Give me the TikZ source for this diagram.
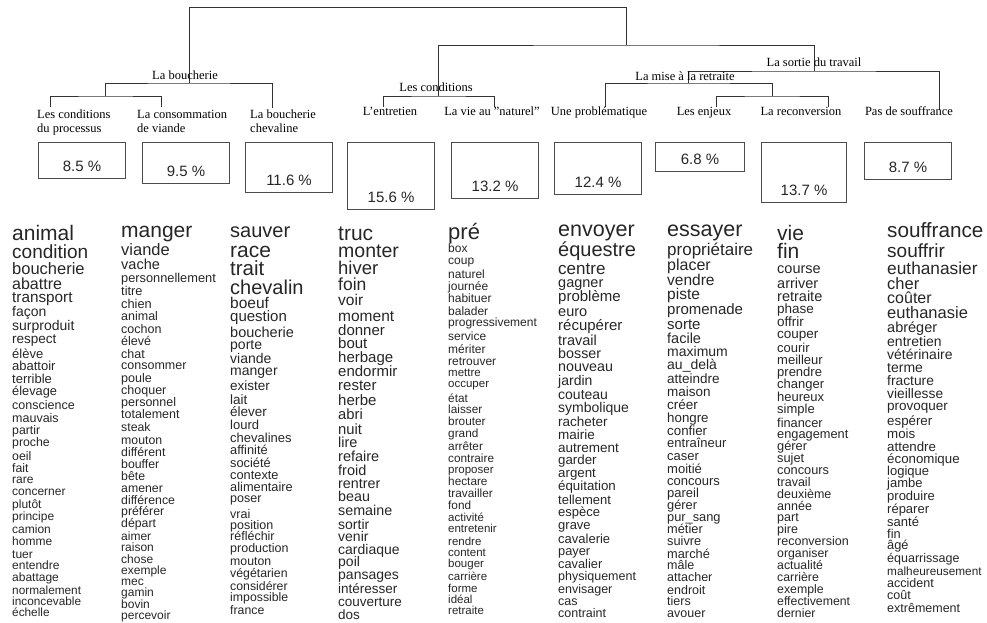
\documentclass[tikz,border=0pt]{standalone}
\usepackage{fontspec}
\setmainfont{Liberation Serif}
\newfontfamily\wordfont{Liberation Sans}
\newcommand{\wsize}[1]{\wordfont\fontsize{#1}{#1}\selectfont}

\begin{document}
\begin{tikzpicture}[x=1pt,y=-1pt,
                    tree/.style={draw=black!80,line width=0.9pt},
                    grp/.style={font=\fontsize{12.5}{14}\selectfont,inner sep=0pt,anchor=mid},
                    classbox/.style={draw=black!70,line width=1.1pt,minimum width=87pt,inner sep=0pt,anchor=north west},
                    pct/.style={font=\wsize{15},inner sep=0pt,text=black!85}]
  \tikzstyle{word}=[inner sep=0pt,anchor=mid west,text=black!85]

  \useasboundingbox (0,0) rectangle (987,623);
  \clip (0,0) rectangle (987,623);

  % leaves of the tree
  \coordinate (t1) at (50,107);
  \coordinate (t2) at (161,107);
  \coordinate (t3) at (272,108);
  \coordinate (t4) at (383,107);
  \coordinate (t5) at (494,107);
  \coordinate (t6) at (605,107);
  \coordinate (t7) at (716,107);
  \coordinate (t8) at (828,107);
  \coordinate (t9) at (939,110);
  % joins
  \coordinate (k12) at (105.5,96);
  \coordinate (kB)  at (189,83);
  \coordinate (kC)  at (438.5,96);
  \coordinate (kE)  at (772,96);
  \coordinate (kM)  at (688.5,83);
  \coordinate (kS)  at (814,71);
  \coordinate (kR)  at (626,45);
  \coordinate (k0)  at (407.5,7.5);

  \draw[tree] (t1) |- (k12) -| (t2);
  \draw[tree] (k12) |- (kB) -| (t3);
  \draw[tree] (t4) |- (kC) -| (t5);
  \draw[tree] (t7) |- (kE) -| (t8);
  \draw[tree] (t6) |- (kM) -| (kE);
  \draw[tree] (kM) |- (kS) -| (t9);
  \draw[tree] (kC) |- (kR) -| (kS);
  \draw[tree] (kB) |- (k0) -| (kR);

  \node[grp] (gB) at (185,77) {La boucherie};
  \node[grp] (gC) at (436,89) {Les conditions};
  \node[grp] (gM) at (685,78) {La mise à la retraite};
  \node[grp] (gS) at (814,64) {La sortie du travail};

  \node[grp,anchor=north west,align=left] (l1) at (37,110) {Les conditions\\du processus};
  \node[grp,anchor=north west,align=left] (l2) at (137,110) {La consommation\\de viande};
  \node[grp,anchor=north west,align=left] (l3) at (250,110) {La boucherie\\chevaline};
  \node[grp] (l4) at (390,113) {L'entretien};
  \node[grp] (l5) at (492,113) {La vie au "naturel"};
  \node[grp] (l6) at (599,113) {Une problématique};
  \node[grp] (l7) at (704,113) {Les enjeux};
  \node[grp] (l8) at (801,113) {La reconversion};
  \node[grp] (l9) at (909,113) {Pas de souffrance};

  % class boxes
  \node[classbox,minimum height=36pt] (b1) at (38,142) {};
  \node[classbox,minimum height=41pt] (b2) at (142,142) {};
  \node[classbox,minimum height=50pt] (b3) at (245,142) {};
  \node[classbox,minimum height=67pt] (b4) at (347,142) {};
  \node[classbox,minimum height=56pt] (b5) at (451,142) {};
  \node[classbox,minimum height=52pt] (b6) at (554,142) {};
  \node[classbox,minimum height=29pt,minimum width=89pt] (b7) at (655,142) {};
  \node[classbox,minimum height=60pt,minimum width=85pt] (b8) at (761,142) {};
  \node[classbox,minimum height=37pt] (b9) at (864,142) {};

  \node[pct] (p1) at ([yshift=12.5pt]b1.south) {8.5 \%};
  \node[pct] (p2) at ([yshift=12.5pt]b2.south) {9.5 \%};
  \node[pct] (p3) at ([yshift=12.5pt]b3.south) {11.6 \%};
  \node[pct] (p4) at ([yshift=12.5pt]b4.south) {15.6 \%};
  \node[pct] (p5) at ([yshift=12.5pt]b5.south) {13.2 \%};
  \node[pct] (p6) at ([yshift=12.5pt]b6.south) {12.4 \%};
  \node[pct] (p7) at ([yshift=12.5pt]b7.south) {6.8 \%};
  \node[pct] (p8) at ([yshift=12.5pt]b8.south) {13.7 \%};
  \node[pct] (p9) at ([yshift=12.5pt]b9.south) {8.7 \%};

  % words of each class
  \foreach \y/\sz/\txt [count=\i] in {238/21/animal, 256/19/condition, 272/16.5/boucherie,
      287/16/abattre, 300/15.3/transport, 314/14/façon, 328/14/surproduit, 341/13.5/respect,
      356/13/élève, 368/13/abattoir, 381/13/terrible, 393/12.8/élevage, 407/12.5/conscience,
      420/12.5/mauvais, 432/12.3/partir, 444/12.3/proche, 458/12.3/oeil, 470/12.3/fait,
      481/12/rare, 493/12/concerner, 506/12/plutôt, 518/12/principe, 531/12/camion,
      543/12/homme, 556/12/tuer, 567/12/entendre, 579/12/abattage, 592/11.8/normalement,
      603/11.8/inconcevable, 614/11.8/échelle}
    \node[word,font=\wsize{\sz}] (wa\i) at (12,\y) {\txt};

  \foreach \y/\sz/\txt [count=\i] in {235/21/manger, 253/16.5/viande, 267/14.5/vache,
      280/12.8/personnellement, 293/12.8/titre, 306/12.8/chien, 318/12.5/animal, 331/12.5/cochon,
      343/12.5/élevé, 356/12.5/chat, 367/12.5/consommer, 380/12.5/poule, 392/12.5/choquer,
      404/12.5/personnel, 416/12.5/totalement, 429/12.3/steak, 442/12.3/mouton,
      454/12.3/différent, 466/12.3/bouffer, 478/12.3/bête, 490/12.3/amener,
      502/12.3/différence, 513/12.3/préférer, 525/12.3/départ, 538/12/aimer, 549/12/raison,
      561/12/chose, 572/12/exemple, 583/12/mec, 594/12/gamin, 606/12/bovin, 617/12/percevoir}
    \node[word,font=\wsize{\sz}] (wb\i) at (121,\y) {\txt};

  \foreach \y/\sz/\txt [count=\i] in {235/20/sauver, 255/21/race, 273/20.5/trait,
      292/20/chevalin, 306/15.5/boeuf, 319/15/question, 335/14.5/boucherie, 347/14/porte,
      361/14/viande, 373/14/manger, 388/13.5/exister, 402/13.5/lait, 414/13.5/élever,
      427/13/lourd, 440/13/chevalines, 452/12.8/affinité, 465/12.8/société,
      477/12.8/contexte, 489/12.8/alimentaire, 500/12.5/poser, 516/12.5/vrai,
      527/12.5/position, 538/12.5/réfléchir, 550/12.5/production, 563/12.3/mouton,
      575/12.3/végétarien, 588/12.3/considérer, 599/12.3/impossible, 612/12.3/france}
    \node[word,font=\wsize{\sz}] (wc\i) at (230,\y) {\txt};

  \foreach \y/\sz/\txt [count=\i] in {238/21/truc, 255/19.5/monter, 272/18.5/hiver,
      288/17.5/foin, 303/15.5/voir, 319/15.5/moment, 333/15/donner, 346/15/bout,
      360/15/herbage, 374/15/endormir, 388/15/rester, 403/15/herbe, 417/14.8/abri,
      432/14.8/nuit, 445/14.5/lire, 459/14.5/refaire, 473/14.5/froid, 486/14.3/rentrer,
      499/14.3/beau, 513/14.3/semaine, 527/14/sortir, 539/14/venir, 552/14/cardiaque,
      564/14/poil, 577/14/pansages, 591/13.5/intéresser, 604/13.5/couverture, 617/13.5/dos}
    \node[word,font=\wsize{\sz}] (wd\i) at (338,\y) {\txt};

  \foreach \y/\sz/\txt [count=\i] in {237/22/pré, 250/12/box, 262/12/coup, 276/12/naturel,
      288/12/journée, 300/12/habituer, 313/12/balader, 324/12/progressivement,
      338/12/service, 351/12/mériter, 363/12/retrouver, 374/11.5/mettre, 385/11.5/occuper,
      400/11.8/état, 411/11.8/laisser, 423/11.8/brouter, 435/11.8/grand, 448/11.8/arrêter,
      460/11.8/contraire, 471/11.5/proposer, 483/11.8/hectare, 495/11.8/travailler,
      507/11.8/fond, 519/11.5/activité, 530/11.5/entretenir, 543/11.5/rendre,
      554/11.5/content, 565/11.5/bouger, 578/11.5/carrière, 590/11.5/forme,
      601/11.5/idéal, 612/11.5/retraite}
    \node[word,font=\wsize{\sz}] (we\i) at (448,\y) {\txt};

  \foreach \y/\sz/\txt [count=\i] in {234/21.5/envoyer, 254/20/équestre, 272/17/centre,
      285/14.5/gagner, 299/15/problème, 314/14.5/euro, 328/15/récupérer, 343/14.5/travail,
      356/14.3/bosser, 369/14.3/nouveau, 383/14/jardin, 397/14/couteau, 410/14/symbolique,
      424/13.5/racheter, 437/13.5/mairie, 450/13.5/autrement, 462/13.3/garder,
      475/13.3/argent, 488/13.3/équitation, 502/13/tellement, 514/13/espèce,
      527/13/grave, 541/13/cavalerie, 553/12.8/payer, 566/12.8/cavalier,
      578/12.5/physiquement, 591/12.5/envisager, 603/12.5/cas, 615/12.5/contraint}
    \node[word,font=\wsize{\sz}] (wf\i) at (558,\y) {\txt};

  \foreach \y/\sz/\txt [count=\i] in {234/21.5/essayer, 253/17/propriétaire, 268/16/placer,
      283/15.5/vendre, 297/15.5/piste, 312/15/promenade, 327/15/sorte, 341/14.5/facile,
      354/14/maximum, 367/14/au\_delà, 381/13.5/atteindre, 394/13.5/maison,
      407/13.5/créer, 420/13.3/hongre, 433/13.3/confier, 445/13/entraîneur,
      458/13/caser, 471/13/moitié, 483/13/concours, 495/13/pareil, 507/12.8/gérer,
      519/12.8/pur\_sang, 531/12.8/métier, 543/12.8/suivre, 556/12.8/marché,
      567/12.5/mâle, 579/12.5/attacher, 592/12.5/endroit, 603/12.5/tiers, 615/12.5/avouer}
    \node[word,font=\wsize{\sz}] (wg\i) at (667,\y) {\txt};

  \foreach \y/\sz/\txt [count=\i] in {238/21/vie, 256/21/fin, 271/14.5/course,
      286/14.5/arriver, 299/14.5/retraite, 311/13.5/phase, 324/13.5/offrir,
      336/13.5/couper, 350/13/courir, 362/13/meilleur, 374/13/prendre, 386/13/changer,
      399/13/heureux, 411/13/simple, 425/12.8/financer, 436/12.8/engagement,
      448/12.8/gérer, 460/12.8/sujet, 472/12.8/concours, 484/12.5/travail,
      496/12.5/deuxième, 508/12.5/année, 519/12.5/part, 531/12.5/pire,
      543/12.5/reconversion, 555/12.3/organiser, 567/12.3/actualité, 579/12.3/carrière,
      591/12.3/exemple, 603/12.3/effectivement, 615/12.3/dernier}
    \node[word,font=\wsize{\sz}] (wh\i) at (777,\y) {\txt};

  \foreach \y/\sz/\txt [count=\i] in {235/20.7/souffrance, 255/19/souffrir,
      272/17.3/euthanasier, 287/16.5/cher, 301/16/coûter, 316/16.5/euthanasie,
      330/14.5/abréger, 344/14/entretien, 357/14/vétérinaire, 370/14/terme,
      383/13.8/fracture, 396/13.8/vieillesse, 408/13.5/provoquer, 423/13.3/espérer,
      436/13.3/mois, 449/13.3/attendre, 461/13.3/économique, 473/13/logique,
      485/13/jambe, 498/13/produire, 511/13/réparer, 524/13/santé, 536/12.8/fin,
      547/12.8/âgé, 560/12.5/équarrissage, 573/11.8/malheureusement,
      585/12.5/accident, 597/12.5/coût, 610/12.5/extrêmement}
    \node[word,font=\wsize{\sz}] (wi\i) at (887,\y) {\txt};
\end{tikzpicture}
\end{document}
